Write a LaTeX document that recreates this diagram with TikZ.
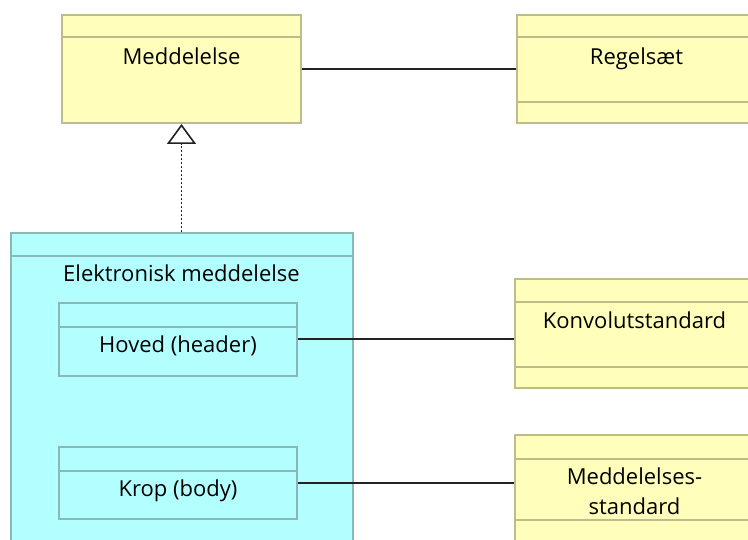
\documentclass[tikz,border=0pt]{standalone}
\usepackage{fontspec}
\setmainfont{Open Sans}
\usetikzlibrary{arrows.meta, positioning}
\definecolor{cyellow}{HTML}{FFFFBB}
\definecolor{cyellowline}{HTML}{BDBD8A}
\definecolor{ccyan}{HTML}{B3FFFF}
\definecolor{ccyanline}{HTML}{88B8B8}
\definecolor{cdark}{HTML}{222222}
\tikzset{
  every picture/.style={x=1pt, y=1pt},
  cls/.style={rectangle, draw=#1line, fill=#1, line width=2pt, inner sep=0pt, minimum width=239pt, minimum height=108pt},
  cls/.default=cyellow,
  sep/.style={draw=#1line, line width=2pt},
  sep/.default=cyellow,
  ttl/.style={anchor=base, inner sep=0pt, align=center, font=\fontsize{22}{30}\selectfont, text=black},
  assoc/.style={draw=cdark, line width=2pt},
  realize/.style={draw=cdark, line width=1.6pt, dash pattern=on 2.2pt off 1.8pt, -{Triangle[open, length=20pt, width=29pt, line width=1.6pt]}},
}

\begin{document}
\begin{tikzpicture}
  \clip (0,0) rectangle (748,540);
  \fill[white] (0,0) rectangle (748,540);
  % top row
  \node[cls] (meddelelse) at (181.5,471) {};
  \node[cls, right=214pt of meddelelse] (regelsaet) {};
  % electronic message with its parts
  \node[cls=ccyan, minimum width=342pt, minimum height=330pt, below=108pt of meddelelse] (elek) {};
  \node[cls=ccyan, minimum width=238pt, minimum height=73pt] (hoved) at (178,200.5) {};
  \node[cls=ccyan, minimum width=238pt, minimum height=72pt] (krop) at (178,57) {};
  % standards
  \node[cls, minimum height=109pt] (konvolut) at (634.5,206.5) {};
  \node[cls, minimum height=113pt] (medstd) at (634.5,48.5) {};

  \draw[sep] ([yshift=-23pt]meddelelse.north west) -- ([yshift=-23pt]meddelelse.north east);
  \draw[sep] ([yshift=-23pt]regelsaet.north west) -- ([yshift=-23pt]regelsaet.north east);
  \draw[sep] ([yshift=22pt]regelsaet.south west) -- ([yshift=22pt]regelsaet.south east);
  \draw[sep=ccyan] ([yshift=-24pt]elek.north west) -- ([yshift=-24pt]elek.north east);
  \draw[sep=ccyan] ([yshift=-25pt]hoved.north west) -- ([yshift=-25pt]hoved.north east);
  \draw[sep=ccyan] ([yshift=-25pt]krop.north west) -- ([yshift=-25pt]krop.north east);
  \draw[sep] ([yshift=-24pt]konvolut.north west) -- ([yshift=-24pt]konvolut.north east);
  \draw[sep] ([yshift=22pt]konvolut.south west) -- ([yshift=22pt]konvolut.south east);
  \draw[sep] ([yshift=-25pt]medstd.north west) -- ([yshift=-25pt]medstd.north east);
  \draw[sep] ([yshift=-86pt]medstd.north west) -- ([yshift=-86pt]medstd.north east);

  \node[ttl] (meddelelse-t) at ([yshift=-51pt]meddelelse.north) {Meddelelse};
  \node[ttl] (regelsaet-t) at ([yshift=-51pt]regelsaet.north) {Regelsæt};
  \node[ttl] (elek-t) at ([yshift=-50pt]elek.north) {Elektronisk meddelelse};
  \node[ttl] (hoved-t) at ([yshift=-51pt]hoved.north) {Hoved (header)};
  \node[ttl] (krop-t) at ([yshift=-51pt]krop.north) {Krop (body)};
  \node[ttl] (konvolut-t) at ([yshift=-51pt]konvolut.north) {Konvolutstandard};
  \node[ttl] (medstd-t) at ([yshift=-81pt]medstd.north) {Meddelelses-\\standard};

  \draw[assoc] (meddelelse) -- (regelsaet);
  \draw[assoc] (hoved.east) -- (hoved.east -| konvolut.west);
  \draw[assoc] (krop.east) -- (krop.east -| medstd.west);
  \draw[realize] (elek.north) -- (elek.north |- meddelelse.south);
\end{tikzpicture}
\end{document}
